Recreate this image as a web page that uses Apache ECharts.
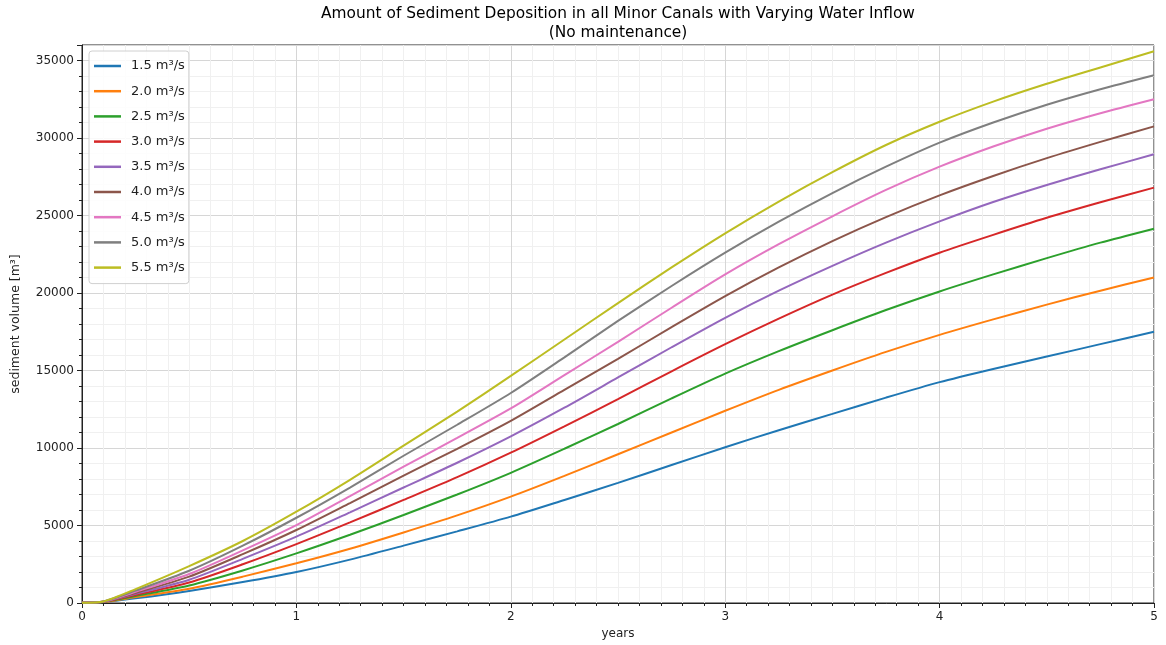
<!DOCTYPE html>
<html>
<head>
<meta charset="utf-8">
<title>Sediment Deposition in Minor Canals</title>
<script src="https://cdn.jsdelivr.net/npm/echarts@6/dist/echarts.min.js"></script>
<style>
  html, body { margin: 0; padding: 0; background: #fff; }
  #chart { width: 1166px; height: 645px; }
</style>
</head>
<body>
<div id="chart"></div>
<script>
// Time since start of simulation (years)
const years = [0, 0.1, 0.25, 0.5, 0.75, 1, 1.25, 1.5, 1.75, 2, 2.25, 2.5, 2.75, 3, 3.25, 3.5, 3.75, 4, 4.25, 4.5, 4.75, 5];

// Cumulative sediment volume (m³) per water inflow
const inflow15 = [20, 60, 300, 780, 1350, 2000, 2800, 3700, 4620, 5570, 6650, 7750, 8900, 10050, 11150, 12200, 13250, 14250, 15100, 15900, 16700, 17500];
const inflow20 = [20, 65, 380, 920, 1700, 2560, 3500, 4550, 5650, 6860, 8200, 9600, 11000, 12400, 13750, 15000, 16200, 17300, 18300, 19250, 20150, 21000];
const inflow25 = [20, 70, 450, 1130, 2100, 3200, 4400, 5680, 7000, 8400, 9950, 11550, 13200, 14800, 16250, 17600, 18900, 20100, 21200, 22250, 23250, 24150];
const inflow30 = [20, 75, 520, 1320, 2500, 3800, 5200, 6650, 8120, 9700, 11400, 13150, 14950, 16700, 18350, 19900, 21300, 22600, 23750, 24850, 25850, 26800];
const inflow35 = [20, 80, 590, 1500, 2850, 4280, 5850, 7450, 9050, 10750, 12600, 14550, 16500, 18400, 20150, 21750, 23250, 24620, 25870, 26970, 27980, 28950];
const inflow40 = [20, 85, 650, 1700, 3150, 4710, 6450, 8220, 9950, 11750, 13750, 15750, 17800, 19800, 21650, 23350, 24900, 26300, 27550, 28700, 29750, 30750];
const inflow45 = [20, 90, 720, 1870, 3400, 5030, 6900, 8800, 10650, 12550, 14700, 16850, 19050, 21200, 23150, 24950, 26650, 28150, 29450, 30600, 31600, 32500];
const inflow50 = [20, 95, 800, 2080, 3700, 5500, 7450, 9500, 11500, 13550, 15850, 18200, 20450, 22600, 24600, 26450, 28150, 29700, 31000, 32150, 33150, 34050];
const inflow55 = [20, 100, 900, 2380, 4000, 5890, 7950, 10150, 12350, 14650, 17000, 19350, 21650, 23850, 25900, 27800, 29550, 31050, 32350, 33500, 34550, 35600];

const seriesNames = ['1.5 m³/s', '2.0 m³/s', '2.5 m³/s', '3.0 m³/s', '3.5 m³/s', '4.0 m³/s', '4.5 m³/s', '5.0 m³/s', '5.5 m³/s'];
const seriesValues = [inflow15, inflow20, inflow25, inflow30, inflow35, inflow40, inflow45, inflow50, inflow55];
const palette = ['#1f77b4', '#ff7f0e', '#2ca02c', '#d62728', '#9467bd', '#8c564b', '#e377c2', '#7f7f7f', '#bcbd22'];

const FONT = 'DejaVu Sans';
const chart = echarts.init(document.getElementById('chart'), null, { renderer: 'canvas' });

const series = seriesNames.map((name, i) => ({
  name: name,
  type: 'line',
  data: years.map((t, k) => [t, seriesValues[i][k]]),
  showSymbol: false,
  smooth: 0.25,
  lineStyle: { width: 2, color: palette[i] },
  itemStyle: { color: palette[i] },
  emphasis: { disabled: true },
  z: 3
}));

chart.setOption({
  animation: false,
  backgroundColor: '#fff',
  title: {
    text: 'Amount of Sediment Deposition in all Minor Canals with Varying Water Inflow\n(No maintenance)',
    left: 618,
    top: 4,
    padding: 0,
    textAlign: 'center',
    textStyle: { fontFamily: FONT, fontSize: 15.4, fontWeight: 'normal', color: '#000', lineHeight: 19 }
  },
  legend: {
    orient: 'vertical',
    left: 89,
    top: 51,
    data: seriesNames.map(n => ({ name: n, icon: 'rect' })),
    itemWidth: 27,
    itemHeight: 2.5,
    itemGap: 11.2,
    padding: [8, 4, 9, 5],
    backgroundColor: 'rgba(255,255,255,0.85)',
    borderColor: '#d0d0d0',
    borderWidth: 1,
    borderRadius: 3,
    textStyle: { fontFamily: FONT, fontSize: 13, color: '#222', lineHeight: 14, padding: [0, 0, 0, 5] }
  },
  grid: {
    left: 82, right: 12, top: 45, bottom: 42,
    show: true,
    borderColor: '#222',
    borderWidth: 1
  },
  xAxis: {
    type: 'value',
    min: 0, max: 5, interval: 1,
    name: 'years',
    nameLocation: 'middle',
    nameGap: 25,
    nameTextStyle: { fontFamily: FONT, fontSize: 12, color: '#222' },
    axisLine: { show: true, lineStyle: { color: '#222', width: 1 } },
    axisTick: { show: true, inside: false, length: 5, lineStyle: { color: '#222' } },
    minorTick: { show: true, splitNumber: 10, length: 3, lineStyle: { color: '#222' } },
    axisLabel: { fontFamily: FONT, fontSize: 12, color: '#222', margin: 8 },
    splitLine: { show: true, lineStyle: { color: '#d6d6d6', width: 1 } },
    minorSplitLine: { show: true, lineStyle: { color: '#f0f0f0', width: 1 } }
  },
  yAxis: {
    type: 'value',
    min: 0, max: 36000, interval: 5000,
    name: 'sediment volume [m³]',
    nameLocation: 'middle',
    nameGap: 60,
    nameTextStyle: { fontFamily: FONT, fontSize: 12.5, color: '#222' },
    axisLine: { show: true, lineStyle: { color: '#222', width: 1 } },
    axisTick: { show: true, inside: false, length: 5, lineStyle: { color: '#222' } },
    minorTick: { show: true, splitNumber: 5, length: 3, lineStyle: { color: '#222' } },
    axisLabel: {
      fontFamily: FONT, fontSize: 12, color: '#222', margin: 8,
      formatter: v => (v % 5000 === 0 ? String(v) : '')
    },
    splitLine: { show: true, lineStyle: { color: '#d6d6d6', width: 1 } },
    minorSplitLine: { show: true, lineStyle: { color: '#f0f0f0', width: 1 } }
  },
  series: series
});
</script>
</body>
</html>
